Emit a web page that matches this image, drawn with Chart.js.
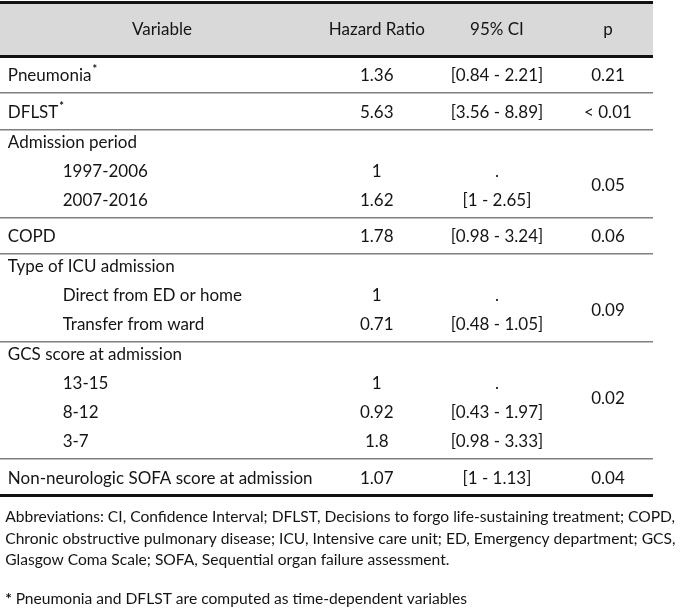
<!DOCTYPE html>
<html>
<head>
<meta charset="utf-8">
<script src="https://cdn.jsdelivr.net/npm/chart.js@4.4.1/dist/chart.umd.min.js"></script>
<style>
  html, body { margin: 0; padding: 0; background: #fff; }
  #wrap { width: 685px; height: 610px; }
</style>
</head>
<body>
<div id="wrap"><canvas id="hrTable"></canvas></div>
<script>
// table content
const headers = ['Variable', 'Hazard Ratio', '95% CI', 'p'];
const variables = [
    'Pneumonia', 'DFLST',
    'Admission period', '1997-2006', '2007-2016',
    'COPD',
    'Type of ICU admission', 'Direct from ED or home', 'Transfer from ward',
    'GCS score at admission', '13-15', '8-12', '3-7',
    'Non-neurologic SOFA score at admission'
];
const rowType = ['main', 'main', 'group', 'sub', 'sub', 'main', 'group', 'sub', 'sub', 'group', 'sub', 'sub', 'sub', 'main'];
const starred = ['Pneumonia', 'DFLST'];
const hazardRatios = [1.36, 5.63, null, 1, 1.62, 1.78, null, 1, 0.71, null, 1, 0.92, 1.8, 1.07];
const ciLower = [0.84, 3.56, null, null, 1, 0.98, null, null, 0.48, null, null, 0.43, 0.98, 1];
const ciUpper = [2.21, 8.89, null, null, 2.65, 3.24, null, null, 1.05, null, null, 1.97, 3.33, 1.13];
const pValues = ['0.21', '< 0.01', '0.05', '0.06', '0.09', '0.02', '0.04'];
const pRows = [[0, 0], [1, 1], [3, 4], [5, 5], [7, 8], [10, 11], [13, 13]];
const footnotes = [
    'Abbreviations: CI, Confidence Interval; DFLST, Decisions to forgo life-sustaining treatment; COPD,',
    'Chronic obstructive pulmonary disease; ICU, Intensive care unit; ED, Emergency department; GCS,',
    'Glasgow Coma Scale; SOFA, Sequential organ failure assessment.'
];
const footnoteStar = 'Pneumonia and DFLST are computed as time-dependent variables';

// layout in row units (one text line = 1)
const rules = [{ y: 0.07, heavy: true }];
const headerY = 1.03;
rules.push({ y: 1.93, heavy: true });
const rowY = [];
let cursor = 1.93;
rowType.forEach((t, i) => {
    if (t === 'main') rowY.push(cursor + 0.67);
    else if (t === 'group') rowY.push(cursor + 0.44);
    else rowY.push(rowY[i - 1] + 1);
    const next = rowType[i + 1];
    if (t === 'main' || next !== 'sub') {
        cursor = rowY[i] + 0.59;
        rules.push({ y: cursor, heavy: i === rowType.length - 1 });
    }
});
const footY = [cursor + 0.74, cursor + 1.49, cursor + 2.23];
const starY = cursor + 3.57;

// column positions (percent of table width)
const colX = { label: 1.2, indent: 9.6, variable: 24.8, hr: 57.7, ci: 76.1, p: 93.1, foot: 0.8 };

const FONT = 'Lato, "Open Sans", sans-serif';
const BODY = '17px ' + FONT;
const NOTE = '15.6px ' + FONT;
const ink = '#141414';

const tablePlugin = {
    id: 'tableText',
    beforeDraw(chart) {
        const { ctx, scales: { x, y } } = chart;
        const top = y.getPixelForValue(rules[0].y);
        const bottom = y.getPixelForValue(rules[1].y);
        ctx.save();
        ctx.fillStyle = '#d9d9d9';
        ctx.fillRect(x.left, top, x.right - x.left, bottom - top);
        ctx.restore();
    },
    afterDraw(chart) {
        const { ctx, scales: { x, y } } = chart;
        ctx.save();
        ctx.fillStyle = ink;
        ctx.textBaseline = 'middle';
        ctx.font = BODY;

        // header
        ctx.textAlign = 'center';
        const headCols = [colX.variable, colX.hr, colX.ci, colX.p];
        headers.forEach((h, i) => ctx.fillText(h, x.getPixelForValue(headCols[i]), y.getPixelForValue(headerY)));

        // rows
        variables.forEach((v, i) => {
            const py = y.getPixelForValue(rowY[i]);
            ctx.textAlign = 'left';
            const px = x.getPixelForValue(rowType[i] === 'sub' ? colX.indent : colX.label);
            ctx.fillText(v, px, py);
            if (starred.includes(v)) {
                const w = ctx.measureText(v).width;
                ctx.font = 'bold 11px ' + FONT;
                ctx.fillText('*', px + w + 1, py - 6);
                ctx.font = BODY;
            }
            ctx.textAlign = 'center';
            if (hazardRatios[i] !== null) {
                ctx.fillText(String(hazardRatios[i]), x.getPixelForValue(colX.hr), py);
                const ci = ciLower[i] === null ? '.' : '[' + ciLower[i] + ' - ' + ciUpper[i] + ']';
                ctx.fillText(ci, x.getPixelForValue(colX.ci), py);
            }
        });

        // p values, centred on the rows they belong to
        pValues.forEach((p, k) => {
            const [a, b] = pRows[k];
            const py = y.getPixelForValue((rowY[a] + rowY[b]) / 2);
            ctx.fillText(p, x.getPixelForValue(colX.p), py);
        });

        // notes under the table
        ctx.textAlign = 'left';
        ctx.font = NOTE;
        footnotes.forEach((f, i) => ctx.fillText(f, x.getPixelForValue(colX.foot), y.getPixelForValue(footY[i])));
        const fx = x.getPixelForValue(colX.foot);
        const fy = y.getPixelForValue(starY);
        ctx.font = 'bold ' + NOTE;
        ctx.fillText('*', fx, fy);
        const sw = ctx.measureText('* ').width;
        ctx.font = NOTE;
        ctx.fillText(footnoteStar, fx + sw, fy);
        ctx.restore();
    }
};

new Chart(document.getElementById('hrTable').getContext('2d'), {
    type: 'scatter',
    data: { datasets: [{ data: [], pointRadius: 0 }] },
    options: {
        responsive: true,
        maintainAspectRatio: false,
        animation: false,
        layout: { padding: { left: 0, right: 32, top: 0, bottom: 0 } },
        plugins: { legend: { display: false }, tooltip: { enabled: false } },
        scales: {
            x: { type: 'linear', min: 0, max: 100, display: false },
            y: {
                type: 'linear',
                min: 0,
                max: 21,
                reverse: true,
                afterBuildTicks: scale => {
                    scale.ticks = rules.map(r => ({ value: r.y }));
                },
                ticks: { display: false },
                border: { display: false },
                grid: {
                    drawTicks: false,
                    color: c => (rules[c.index] && rules[c.index].heavy) ? '#111111' : '#7f7f7f',
                    lineWidth: c => (rules[c.index] && rules[c.index].heavy) ? 3 : 1.5
                }
            }
        }
    },
    plugins: [tablePlugin]
});
</script>
</body>
</html>
